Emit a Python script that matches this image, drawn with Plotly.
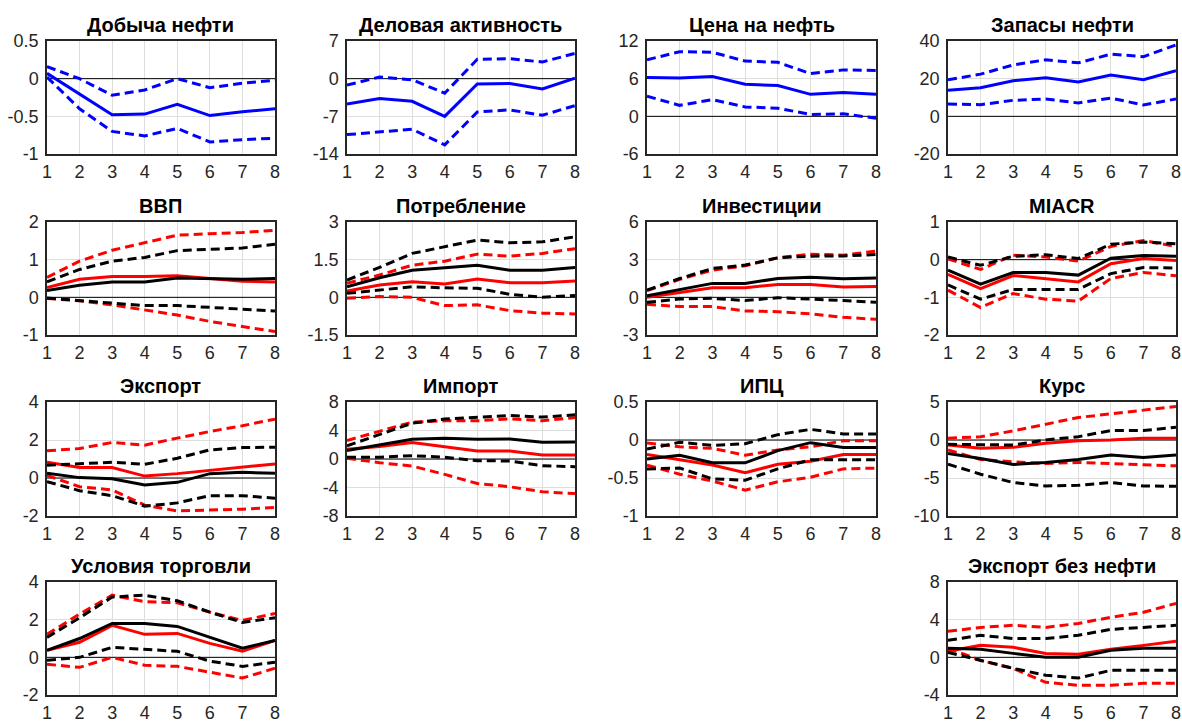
import plotly.graph_objects as go

# Horizon (quarters after the shock)
horizon = [1, 2, 3, 4, 5, 6, 7, 8]

# --- Oil block: median response and bands (blue) ---
oil_prod_mid = [0.07, -0.21, -0.48, -0.47, -0.34, -0.49, -0.44, -0.40]
oil_prod_hi = [0.16, 0.0, -0.22, -0.15, 0.0, -0.12, -0.06, -0.02]
oil_prod_lo = [0.02, -0.40, -0.70, -0.76, -0.66, -0.84, -0.81, -0.79]

biz_mid = [-4.7, -3.7, -4.2, -7.0, -1.0, -0.9, -1.9, 0.1]
biz_hi = [-1.2, 0.3, -0.2, -2.7, 3.6, 3.7, 3.1, 4.7]
biz_lo = [-10.4, -9.9, -9.4, -12.3, -6.2, -5.8, -6.8, -5.0]

oil_price_mid = [6.2, 6.1, 6.35, 5.1, 4.9, 3.5, 3.8, 3.5]
oil_price_hi = [9.0, 10.3, 10.2, 8.8, 8.6, 6.8, 7.4, 7.3]
oil_price_lo = [3.2, 1.75, 2.65, 1.5, 1.3, 0.3, 0.4, -0.3]

oil_stock_mid = [13.8, 15.2, 18.9, 20.5, 18.2, 21.9, 19.4, 24.2]
oil_stock_hi = [19.4, 22.4, 27.3, 30.0, 28.4, 33.0, 31.7, 37.9]
oil_stock_lo = [6.5, 6.2, 8.5, 9.2, 7.1, 9.7, 6.0, 9.2]

# --- Macro block: red and black specifications (median, upper, lower) ---
gdp_red_mid = [0.26, 0.48, 0.55, 0.55, 0.57, 0.50, 0.43, 0.41]
gdp_red_hi = [0.53, 0.96, 1.25, 1.45, 1.65, 1.69, 1.72, 1.78]
gdp_red_lo = [-0.03, -0.09, -0.20, -0.34, -0.47, -0.64, -0.78, -0.91]
gdp_blk_mid = [0.18, 0.32, 0.41, 0.41, 0.51, 0.50, 0.48, 0.50]
gdp_blk_hi = [0.41, 0.74, 0.96, 1.06, 1.24, 1.28, 1.31, 1.41]
gdp_blk_lo = [-0.02, -0.09, -0.14, -0.22, -0.22, -0.27, -0.32, -0.36]

cons_red_mid = [0.25, 0.49, 0.62, 0.53, 0.73, 0.58, 0.58, 0.65]
cons_red_hi = [0.56, 0.89, 1.28, 1.44, 1.72, 1.64, 1.75, 1.94]
cons_red_lo = [-0.04, 0.03, 0.0, -0.33, -0.30, -0.53, -0.63, -0.66]
cons_blk_mid = [0.42, 0.78, 1.08, 1.19, 1.28, 1.08, 1.08, 1.19]
cons_blk_hi = [0.69, 1.19, 1.75, 2.01, 2.28, 2.17, 2.21, 2.41]
cons_blk_lo = [0.16, 0.29, 0.42, 0.38, 0.36, 0.12, 0.0, 0.07]

inv_red_mid = [0.0, 0.40, 0.77, 0.77, 1.03, 1.03, 0.82, 0.87]
inv_red_hi = [0.53, 1.43, 2.17, 2.51, 3.15, 3.44, 3.36, 3.68]
inv_red_lo = [-0.56, -0.74, -0.74, -1.08, -1.14, -1.32, -1.59, -1.75]
inv_blk_mid = [0.13, 0.63, 1.11, 1.11, 1.50, 1.59, 1.48, 1.53]
inv_blk_hi = [0.58, 1.50, 2.30, 2.57, 3.15, 3.28, 3.30, 3.41]
inv_blk_lo = [-0.40, -0.13, -0.08, -0.26, -0.03, -0.13, -0.26, -0.40]

miacr_red_mid = [-0.39, -0.77, -0.42, -0.50, -0.59, -0.11, 0.03, -0.02]
miacr_red_hi = [0.02, -0.26, 0.12, 0.07, -0.04, 0.35, 0.51, 0.35]
miacr_red_lo = [-0.81, -1.27, -0.90, -1.05, -1.10, -0.50, -0.34, -0.43]
miacr_blk_mid = [-0.28, -0.65, -0.34, -0.34, -0.41, 0.04, 0.11, 0.09]
miacr_blk_hi = [0.07, -0.15, 0.09, 0.13, 0.03, 0.41, 0.47, 0.42]
miacr_blk_lo = [-0.67, -1.05, -0.79, -0.79, -0.79, -0.37, -0.21, -0.22]

exp_red_mid = [0.83, 0.55, 0.55, 0.10, 0.23, 0.39, 0.55, 0.74]
exp_red_hi = [1.43, 1.55, 1.87, 1.73, 2.10, 2.45, 2.75, 3.10]
exp_red_lo = [0.14, -0.46, -0.63, -1.43, -1.73, -1.69, -1.64, -1.55]
exp_blk_mid = [0.25, 0.02, -0.04, -0.37, -0.23, 0.23, 0.30, 0.25]
exp_blk_hi = [0.67, 0.76, 0.83, 0.72, 1.04, 1.48, 1.60, 1.62]
exp_blk_lo = [-0.19, -0.67, -0.93, -1.48, -1.31, -0.93, -0.93, -1.06]

imp_red_mid = [1.36, 1.74, 2.30, 1.74, 1.13, 1.13, 0.56, 0.56]
imp_red_hi = [2.60, 3.86, 5.18, 5.36, 5.36, 5.65, 5.36, 5.83]
imp_red_lo = [0.10, -0.52, -0.99, -2.16, -3.44, -3.90, -4.60, -4.85]
imp_blk_mid = [1.18, 1.98, 2.78, 2.92, 2.78, 2.82, 2.35, 2.40]
imp_blk_hi = [1.84, 3.48, 5.03, 5.60, 5.88, 6.10, 5.88, 6.20]
imp_blk_lo = [0.24, 0.24, 0.47, 0.24, -0.24, -0.28, -0.94, -1.08]

cpi_red_mid = [-0.19, -0.26, -0.33, -0.43, -0.32, -0.28, -0.19, -0.19]
cpi_red_hi = [-0.04, -0.09, -0.11, -0.20, -0.13, -0.09, -0.01, -0.01]
cpi_red_lo = [-0.33, -0.45, -0.54, -0.66, -0.55, -0.49, -0.38, -0.37]
cpi_blk_mid = [-0.25, -0.20, -0.30, -0.30, -0.14, -0.035, -0.10, -0.10]
cpi_blk_hi = [-0.12, -0.03, -0.07, -0.05, 0.07, 0.14, 0.08, 0.08]
cpi_blk_lo = [-0.38, -0.37, -0.51, -0.53, -0.38, -0.26, -0.26, -0.26]

fx_red_mid = [-0.66, -1.10, -0.97, -0.44, -0.09, 0.0, 0.22, 0.22]
fx_red_hi = [0.22, 0.44, 1.19, 2.07, 2.96, 3.44, 3.97, 4.41]
fx_red_lo = [-1.32, -2.56, -2.87, -3.09, -2.96, -3.09, -3.18, -3.40]
fx_blk_mid = [-1.76, -2.43, -3.22, -2.96, -2.56, -1.99, -2.29, -1.99]
fx_blk_hi = [-0.57, -0.66, -0.66, 0.0, 0.44, 1.24, 1.24, 1.68]
fx_blk_lo = [-3.18, -4.50, -5.60, -6.04, -5.96, -5.60, -6.04, -6.09]

tot_red_mid = [0.37, 0.80, 1.70, 1.22, 1.27, 0.74, 0.32, 0.90]
tot_red_hi = [1.22, 2.30, 3.30, 2.96, 2.90, 2.40, 1.96, 2.33]
tot_red_lo = [-0.37, -0.53, 0.0, -0.42, -0.48, -0.80, -1.10, -0.58]
tot_blk_mid = [0.37, 1.00, 1.80, 1.80, 1.64, 1.06, 0.48, 0.90]
tot_blk_hi = [1.06, 2.10, 3.20, 3.30, 3.00, 2.40, 1.85, 2.10]
tot_blk_lo = [-0.16, 0.0, 0.53, 0.42, 0.32, -0.20, -0.48, -0.26]

nonoil_red_mid = [0.64, 1.27, 1.06, 0.42, 0.32, 0.85, 1.27, 1.70]
nonoil_red_hi = [2.76, 3.18, 3.40, 3.18, 3.60, 4.25, 4.78, 5.73]
nonoil_red_lo = [0.96, -0.32, -1.17, -2.65, -2.97, -2.97, -2.76, -2.76]
nonoil_blk_mid = [0.96, 0.85, 0.42, 0.0, 0.0, 0.74, 0.96, 0.96]
nonoil_blk_hi = [1.80, 2.34, 2.00, 2.00, 2.34, 2.97, 3.18, 3.40]
nonoil_blk_lo = [0.53, -0.32, -1.17, -1.90, -2.20, -1.38, -1.38, -1.38]

# Panel titles and y-axis tick labels
titles = ["Добыча нефти", "Деловая активность", "Цена на нефть", "Запасы нефти",
          "ВВП", "Потребление", "Инвестиции", "MIACR",
          "Экспорт", "Импорт", "ИПЦ", "Курс",
          "Условия торговли", "Экспорт без нефти"]
yticks = [
    ["-1", "-0.5", "0", "0.5"],
    ["-14", "-7", "0", "7"],
    ["-6", "0", "6", "12"],
    ["-20", "0", "20", "40"],
    ["-1", "0", "1", "2"],
    ["-1.5", "0", "1.5", "3"],
    ["-3", "0", "3", "6"],
    ["-2", "-1", "0", "1"],
    ["-2", "0", "2", "4"],
    ["-8", "-4", "0", "4", "8"],
    ["-1", "-0.5", "0", "0.5"],
    ["-10", "-5", "0", "5"],
    ["-2", "0", "2", "4"],
    ["-4", "0", "4", "8"],
]

blue_series = [
    (oil_prod_mid, oil_prod_hi, oil_prod_lo),
    (biz_mid, biz_hi, biz_lo),
    (oil_price_mid, oil_price_hi, oil_price_lo),
    (oil_stock_mid, oil_stock_hi, oil_stock_lo),
]
pair_series = [
    (gdp_red_mid, gdp_red_hi, gdp_red_lo, gdp_blk_mid, gdp_blk_hi, gdp_blk_lo),
    (cons_red_mid, cons_red_hi, cons_red_lo, cons_blk_mid, cons_blk_hi, cons_blk_lo),
    (inv_red_mid, inv_red_hi, inv_red_lo, inv_blk_mid, inv_blk_hi, inv_blk_lo),
    (miacr_red_mid, miacr_red_hi, miacr_red_lo, miacr_blk_mid, miacr_blk_hi, miacr_blk_lo),
    (exp_red_mid, exp_red_hi, exp_red_lo, exp_blk_mid, exp_blk_hi, exp_blk_lo),
    (imp_red_mid, imp_red_hi, imp_red_lo, imp_blk_mid, imp_blk_hi, imp_blk_lo),
    (cpi_red_mid, cpi_red_hi, cpi_red_lo, cpi_blk_mid, cpi_blk_hi, cpi_blk_lo),
    (fx_red_mid, fx_red_hi, fx_red_lo, fx_blk_mid, fx_blk_hi, fx_blk_lo),
    (tot_red_mid, tot_red_hi, tot_red_lo, tot_blk_mid, tot_blk_hi, tot_blk_lo),
    (nonoil_red_mid, nonoil_red_hi, nonoil_red_lo, nonoil_blk_mid, nonoil_blk_hi, nonoil_blk_lo),
]

# ---- layout geometry (pixels in a 1182 x 723 page) ----
W, H = 1182, 723
col_px = [(47, 275), (347, 575), (647, 876), (948, 1176)]
row_px = [(41, 154), (222, 335), (402, 516), (582, 695)]
cells = [(0, 0), (0, 1), (0, 2), (0, 3),
         (1, 0), (1, 1), (1, 2), (1, 3),
         (2, 0), (2, 1), (2, 2), (2, 3),
         (3, 0), (3, 3)]

FONT = "Liberation Sans, Arial, sans-serif"
AX_COLOR = "#262626"
DASH = "9px,5px"
LW = 3

fig = go.Figure()
layout = {}
annotations = []

for i, (r, c) in enumerate(cells):
    n = i + 1
    xa = "x" if n == 1 else f"x{n}"
    ya = "y" if n == 1 else f"y{n}"
    x0, x1 = col_px[c]
    t0, t1 = row_px[r]
    xdom = [x0 / W, x1 / W]
    ydom = [(H - t1) / H, (H - t0) / H]
    tv = [float(v) for v in yticks[i]]

    # zero reference line
    fig.add_trace(go.Scatter(x=[1, 8], y=[0, 0], mode="lines",
                             line=dict(color="#000000", width=1),
                             xaxis=xa, yaxis=ya, showlegend=False, hoverinfo="skip"))

    if i < 4:
        mid, hi, lo = blue_series[i]
        groups = [("#0000ff", mid, hi, lo)]
    else:
        rm, rh, rl, bm, bh, bl = pair_series[i - 4]
        groups = [("#ff0000", rm, rh, rl), ("#000000", bm, bh, bl)]

    for color, mid, hi, lo in groups:
        for ys in (hi, lo):
            fig.add_trace(go.Scatter(x=horizon, y=ys, mode="lines",
                                     line=dict(color=color, width=LW, dash=DASH),
                                     xaxis=xa, yaxis=ya, showlegend=False))
        fig.add_trace(go.Scatter(x=horizon, y=mid, mode="lines",
                                 line=dict(color=color, width=LW),
                                 xaxis=xa, yaxis=ya, showlegend=False))

    key_x = "xaxis" if n == 1 else f"xaxis{n}"
    key_y = "yaxis" if n == 1 else f"yaxis{n}"
    layout[key_x] = dict(domain=xdom, anchor=ya, range=[1, 8], automargin=False,
                         tickvals=horizon, ticktext=[str(h) for h in horizon],
                         showgrid=True, gridcolor="#dedede", gridwidth=1,
                         zeroline=False, showline=True, mirror=True,
                         linecolor=AX_COLOR, linewidth=1.5, ticks="",
                         ticklabelstandoff=1,
                         tickfont=dict(family=FONT, size=18, color=AX_COLOR))
    layout[key_y] = dict(domain=ydom, anchor=xa, range=[tv[0], tv[-1]], automargin=False,
                         tickvals=tv, ticktext=yticks[i],
                         showgrid=True, gridcolor="#dedede", gridwidth=1,
                         zeroline=False, showline=True, mirror=True,
                         linecolor=AX_COLOR, linewidth=1.5, ticks="",
                         ticklabelstandoff=3,
                         tickfont=dict(family=FONT, size=18, color=AX_COLOR))
    annotations.append(dict(text=f"<b>{titles[i]}</b>", xref="paper", yref="paper",
                            x=(xdom[0] + xdom[1]) / 2, y=ydom[1], yshift=3,
                            xanchor="center", yanchor="bottom", showarrow=False,
                            font=dict(family=FONT, size=20, color="#000000")))

fig.update_layout(
    width=W, height=H,
    margin=dict(l=0, r=0, t=0, b=0, autoexpand=False),
    paper_bgcolor="#ffffff", plot_bgcolor="#ffffff",
    showlegend=False,
    annotations=annotations,
    **layout,
)

fig.write_html("out.html")
